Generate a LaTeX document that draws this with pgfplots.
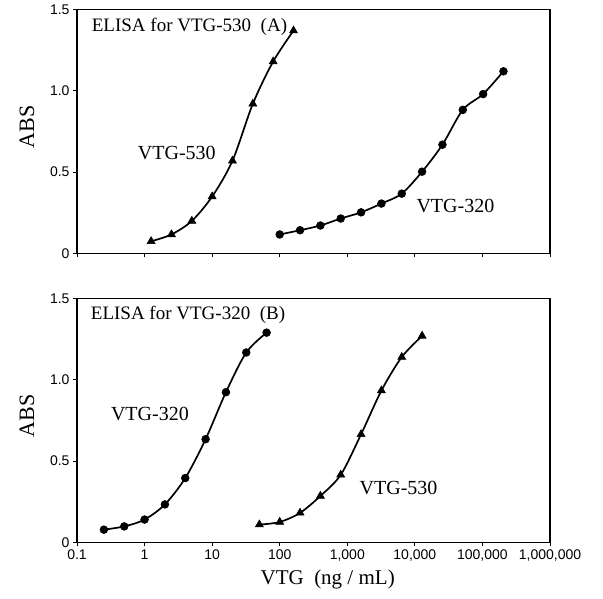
\documentclass[border=0pt]{standalone}
\usepackage{fontspec}
\setmainfont{Liberation Serif}
\setsansfont{Liberation Sans}
\usepackage{pgfplots}
\pgfplotsset{compat=1.18}

\pgfplotsset{
  elisaaxis/.style={
    scale only axis, width=473pt, height=244pt,
    xmin=0.1, xmax=1e6, ymin=0, ymax=1.5,
    xtick={0.1,1,10,100,1000,10000,100000,1000000},
    xminorticks=false,
    ytick={0,0.5,1,1.5},
    yticklabels={0,0.5,1.0,1.5},
    tick align=outside, xtick pos=bottom, ytick pos=left,
    major tick length=4pt,
    tick style={black, line width=0.9pt},
    axis line style={line width=1.4pt},
    tick label style={font=\sffamily\fontsize{14}{16}\selectfont},
    ylabel={ABS},
    ylabel style={font=\fontsize{22}{24}\selectfont,
                  at={(axis description cs:-0.106,0.52)}, anchor=center},
    clip=false,
  },
}
\tikzset{
  elisacurve/.style={black, line width=1.7pt, smooth, tension=0.5},
  elisatri/.style={elisacurve, mark=triangle*, mark size=4.6pt, mark options={solid, fill=black, line width=0.6pt}},
  elisadot/.style={elisacurve, mark=*, mark size=3.9pt, mark options={solid, fill=black, line width=0.6pt}},
  curvelbl/.style={font=\fontsize{20}{22}\selectfont},
  paneltitle/.style={font=\fontsize{19}{21}\selectfont, anchor=west},
}

\begin{document}
\begin{tikzpicture}
\begin{semilogxaxis}[elisaaxis, name=upper, xticklabels={}]
\addplot[elisatri] coordinates {
  (1.25,0.075) (2.5,0.117) (5,0.20) (10,0.35) (20,0.57) (40,0.92) (80,1.18) (160,1.37) };
\addplot[elisadot] coordinates {
  (100,0.117) (200,0.143) (400,0.172) (800,0.215) (1600,0.253) (3200,0.307)
  (6400,0.368) (12800,0.503) (25600,0.669) (51200,0.883) (102400,0.98) (204800,1.12) };
\node[paneltitle] at (axis description cs:0.024,0.93) {ELISA for VTG-530\enspace(A)};
\node[curvelbl] at (axis cs:3,0.618) {VTG-530};
\node[curvelbl] at (axis cs:39800,0.29) {VTG-320};
\end{semilogxaxis}

\begin{semilogxaxis}[elisaaxis, name=lower, at={(upper.south west)}, anchor=north west, yshift=-45pt,
  xticklabels={0.1,1,10,100,{1,000},{10,000},{100,000},{1,000,000}},
  xlabel={VTG\enspace(ng / mL)},
  xlabel style={font=\fontsize{21}{23}\selectfont,
                at={(axis description cs:0.53,-0.153)}, anchor=center}]
\addplot[elisadot] coordinates {
  (0.25,0.079) (0.5,0.099) (1,0.141) (2,0.234) (4,0.396) (8,0.635) (16,0.924) (32,1.168) (64,1.29) };
\addplot[elisatri] coordinates {
  (50,0.11) (100,0.126) (200,0.182) (400,0.286) (800,0.416) (1600,0.665)
  (3200,0.934) (6400,1.14) (12800,1.27) };
\node[paneltitle] at (axis description cs:0.022,0.934) {ELISA for VTG-320\enspace(B)};
\node[curvelbl] at (axis cs:1.2,0.793) {VTG-320};
\node[curvelbl] at (axis cs:5750,0.337) {VTG-530};
\end{semilogxaxis}

\path (lower.south west) ++(-77pt,-56pt) coordinate (bl);
\path (upper.north east) ++(53pt,9.5pt) coordinate (tr);
\path (bl) rectangle (tr);
\end{tikzpicture}
\end{document}
